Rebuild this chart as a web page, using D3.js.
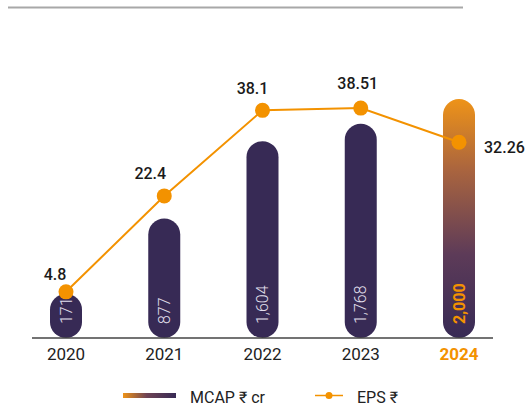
<!DOCTYPE html>
<html>
<head>
<meta charset="utf-8">
<script src="https://cdn.jsdelivr.net/npm/d3@7"></script>
<style>
  body { margin: 0; background: #fff; }
  svg text { font-family: Roboto, "Noto Sans", "DejaVu Sans", sans-serif; }
</style>
</head>
<body>
<script>
var w = 530;
var h = 408;

var years = ["2020", "2021", "2022", "2023", "2024"];
var mcap = [171, 877, 1604, 1768, 2000];
var eps = [4.8, 22.4, 38.1, 38.51, 32.26];
var mcapLabels = ["171", "877", "1,604", "1,768", "2,000"];
var epsLabels = ["4.8", "22.4", "38.1", "38.51", "32.26"];

var base = 338;
var purple = "#372a55";
var orange = "#f39200";

var x = d3.scalePoint().domain(years).range([66, 459]);
// bars start a little above the axis because of the round caps
var yBar = d3.scaleLinear().domain([0, 2000]).range([base - 26, 99]);
var yEps = d3.scaleLinear().domain([0, 40]).range([318, 100]);

var svg = d3.select("body").append("svg").attr("width", w).attr("height", h);

var defs = svg.append("defs");
var grad = defs.append("linearGradient")
  .attr("id", "barGrad").attr("x1", 0).attr("y1", 0).attr("x2", 0).attr("y2", 1);
grad.append("stop").attr("offset", "0%").attr("stop-color", "#ee9318");
grad.append("stop").attr("offset", "30%").attr("stop-color", "#a9643f");
grad.append("stop").attr("offset", "65%").attr("stop-color", "#5d3b58");
grad.append("stop").attr("offset", "100%").attr("stop-color", purple);

var legGrad = defs.append("linearGradient")
  .attr("id", "legGrad").attr("x1", 0).attr("y1", 0).attr("x2", 1).attr("y2", 0);
legGrad.append("stop").attr("offset", "0%").attr("stop-color", "#ee9318");
legGrad.append("stop").attr("offset", "45%").attr("stop-color", "#6e4355");
legGrad.append("stop").attr("offset", "100%").attr("stop-color", purple);

// top rule
svg.append("line")
  .attr("x1", 8).attr("x2", 463).attr("y1", 7.5).attr("y2", 7.5)
  .attr("stroke", "#a8a8a8").attr("stroke-width", 2);

// bars
var bw = 32;
svg.selectAll(".bar")
  .data(years)
  .enter()
  .append("rect")
  .attr("class", "bar")
  .attr("x", function (d) { return x(d) - bw / 2; })
  .attr("y", function (d, i) { return yBar(mcap[i]); })
  .attr("width", bw)
  .attr("height", function (d, i) { return base - yBar(mcap[i]); })
  .attr("rx", bw / 2)
  .attr("fill", function (d, i) { return i === 4 ? "url(#barGrad)" : purple; });

// bar value labels (rotated)
svg.selectAll(".barlab")
  .data(years)
  .enter()
  .append("text")
  .attr("class", "barlab")
  .attr("transform", function (d) { return "translate(" + x(d) + "," + (base - 14) + ") rotate(-90)"; })
  .attr("dominant-baseline", "central")
  .attr("font-size", 16)
  .attr("font-weight", function (d, i) { return i === 4 ? 700 : 300; })
  .attr("fill", function (d, i) { return i === 4 ? orange : "#e4e0ee"; })
  .text(function (d, i) { return mcapLabels[i]; });

// axis line
svg.append("line")
  .attr("x1", 32).attr("x2", 493).attr("y1", base).attr("y2", base)
  .attr("stroke", "#444").attr("stroke-width", 1.5);

// year labels
svg.selectAll(".year")
  .data(years)
  .enter()
  .append("text")
  .attr("class", "year")
  .attr("x", function (d) { return x(d); })
  .attr("y", 360)
  .attr("text-anchor", "middle")
  .attr("font-size", 17)
  .attr("font-weight", function (d, i) { return i === 4 ? 700 : 400; })
  .attr("fill", function (d, i) { return i === 4 ? orange : "#222"; })
  .text(function (d) { return d; });

// EPS line
var line = d3.line()
  .x(function (d, i) { return x(years[i]); })
  .y(function (d) { return yEps(d); });

svg.append("path")
  .datum(eps)
  .attr("d", line)
  .attr("fill", "none")
  .attr("stroke", orange)
  .attr("stroke-width", 2);

svg.selectAll(".dot")
  .data(eps)
  .enter()
  .append("circle")
  .attr("cx", function (d, i) { return x(years[i]); })
  .attr("cy", function (d) { return yEps(d); })
  .attr("r", 7.5)
  .attr("fill", orange);

var labOff = [[-11, -12], [-14, -17], [-10, -16], [-3, -19], [25, 11]];
svg.selectAll(".epslab")
  .data(eps)
  .enter()
  .append("text")
  .attr("class", "epslab")
  .attr("x", function (d, i) { return x(years[i]) + labOff[i][0]; })
  .attr("y", function (d, i) { return yEps(d) + labOff[i][1]; })
  .attr("text-anchor", function (d, i) { return i === 4 ? "start" : "middle"; })
  .attr("font-size", 16)
  .attr("font-weight", 500)
  .attr("fill", "#1a1a1a")
  .text(function (d, i) { return epsLabels[i]; });

// legend
var leg = svg.append("g");
leg.append("rect")
  .attr("x", 123).attr("y", 393).attr("width", 53).attr("height", 5)
  .attr("fill", "url(#legGrad)");
leg.append("text")
  .attr("x", 190).attr("y", 403)
  .attr("font-size", 16).attr("fill", "#222")
  .text("MCAP ₹ cr");
leg.append("line")
  .attr("x1", 315).attr("x2", 343).attr("y1", 395.5).attr("y2", 395.5)
  .attr("stroke", orange).attr("stroke-width", 1.5);
leg.append("circle")
  .attr("cx", 329).attr("cy", 395.5).attr("r", 3.5).attr("fill", orange);
leg.append("text")
  .attr("x", 357).attr("y", 403)
  .attr("font-size", 16).attr("fill", "#222")
  .text("EPS ₹");
</script>
</body>
</html>
